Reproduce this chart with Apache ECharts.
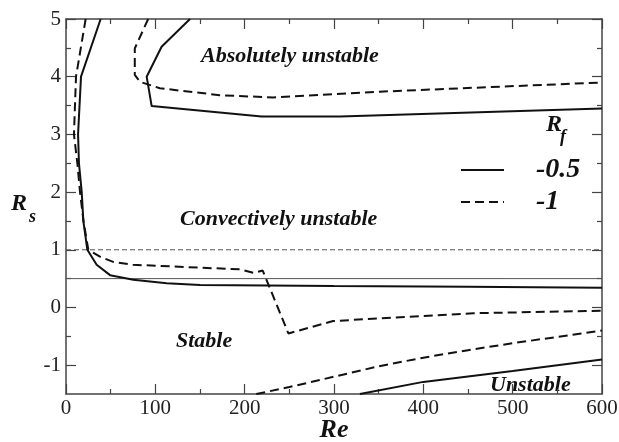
<!DOCTYPE html>
<html>
<head>
<meta charset="utf-8">
<script src="https://cdn.jsdelivr.net/npm/echarts@6/dist/echarts.min.js"></script>
<style>
  html, body { margin: 0; padding: 0; background: #fff; }
  #chart { width: 619px; height: 442px; }
</style>
</head>
<body>
<div id="chart"></div>
<script>
// Rf = -0.5 (solid): convective / stable boundary
const solidLowerRe = [38.8, 16.8, 13.5, 14.5, 17.6, 19.4, 23.9, 34.3, 49.3, 75.4, 112.7, 150, 300, 450, 600];
const solidLowerRs = [5, 4.0, 3.0, 2.5, 2.0, 1.5, 1.0, 0.74, 0.56, 0.48, 0.42, 0.39, 0.37, 0.36, 0.34];
// Rf = -0.5: absolute instability boundary
const solidUpperRe = [138.8, 107, 90.3, 95.9, 219, 306.7, 600];
const solidUpperRs = [5, 4.52, 4.0, 3.49, 3.31, 3.31, 3.45];
// Rf = -0.5: lower unstable boundary
const solidBottomRe = [329, 400, 500, 600];
const solidBottomRs = [-1.5, -1.29, -1.10, -0.90];

// Rf = -1 (dashed): convective / stable boundary
const dashLowerRe = [22, 11.2, 8.9, 12.7, 15.7, 19.4, 23.1, 25, 38, 52.8, 75, 150, 194.8, 209.7, 220.2, 248.9, 299, 456, 600];
const dashLowerRs = [5, 4.0, 3.0, 2.5, 2.0, 1.52, 1.17, 1.0, 0.88, 0.79, 0.74, 0.69, 0.66, 0.60, 0.64, -0.45, -0.235, -0.10, -0.056];
// Rf = -1: absolute instability boundary
const dashUpperRe = [92, 77, 77, 83, 105, 172, 232, 351, 600];
const dashUpperRs = [5, 4.49, 4.03, 3.91, 3.80, 3.68, 3.64, 3.74, 3.90];
// Rf = -1: lower unstable boundary
const dashBottomRe = [213, 250, 300, 350, 400, 450, 500, 550, 600];
const dashBottomRs = [-1.5, -1.38, -1.2, -1.02, -0.87, -0.74, -0.62, -0.51, -0.40];

// horizontal reference levels of Rs
const refDashedLevel = 1;
const refSolidLevel = 0.5;

// axis ticks
const reRange = [0, 600];
const rsRange = [-1.5, 5];
const rsMajorTicks = [-1, 0, 1, 2, 3, 4, 5];
const rsMinorTicks = [-0.5, 0.5, 1.5, 2.5, 3.5, 4.5];

const rfNames = ['-0.5', '-1'];

const zip = (xs, ys) => xs.map((x, i) => [x, ys[i]]);

const SERIF = '"Liberation Serif", "Times New Roman", serif';
const frameColor = '#444';
const ink = '#111';

function frameX(pos, showLabels) {
  return {
    type: 'value', position: pos, min: reRange[0], max: reRange[1], interval: 100,
    axisLine: { show: true, onZero: false, lineStyle: { color: frameColor, width: 1.5 } },
    axisTick: { show: true, inside: true, length: 10, lineStyle: { color: frameColor, width: 1.2 } },
    minorTick: { show: true, splitNumber: 2, length: 5, lineStyle: { color: frameColor, width: 1.2 } },
    splitLine: { show: false }, minorSplitLine: { show: false },
    axisLabel: { show: showLabels, fontFamily: SERIF, fontSize: 21, color: '#222', margin: 4 }
  };
}
function frameY(pos, major, showLine, showLabels) {
  const ticks = major ? rsMajorTicks : rsMinorTicks;
  return {
    type: 'value', position: pos, min: rsRange[0], max: rsRange[1],
    axisLine: { show: showLine, onZero: false, lineStyle: { color: frameColor, width: 1.5 } },
    axisTick: { show: true, inside: true, length: major ? 10 : 5, customValues: ticks,
                lineStyle: { color: frameColor, width: 1.2 } },
    splitLine: { show: false },
    axisLabel: { show: showLabels, customValues: ticks, fontFamily: SERIF, fontSize: 21, color: '#222', margin: 5 }
  };
}

const xBottom = frameX('bottom', true);
xBottom.name = 'Re';
xBottom.nameLocation = 'middle';
xBottom.nameGap = 23;
xBottom.nameMoveOverlap = false;
xBottom.nameTextStyle = { fontFamily: SERIF, fontSize: 26, fontWeight: 'bold', fontStyle: 'italic', color: ink };

function curve(name, xs, ys, dashed) {
  return {
    name, type: 'line', data: zip(xs, ys), symbol: 'none', showSymbol: false,
    animation: false, clip: true, silent: true,
    lineStyle: { color: ink, width: 2, type: dashed ? [9, 5] : 'solid' },
    itemStyle: { color: ink }
  };
}
function level(value, dashed) {
  return {
    name: 'level' + value, type: 'line', data: [[reRange[0], value], [reRange[1], value]],
    symbol: 'none', silent: true, animation: false,
    lineStyle: { color: '#555', width: 1, type: dashed ? [5, 3] : 'solid' }
  };
}

const italicBold = (size) => 'italic bold ' + size + 'px ' + SERIF;
function label(text, left, top, size) {
  return { type: 'text', left, top, silent: true,
           style: { text, font: italicBold(size), fill: ink } };
}

const chart = echarts.init(document.getElementById('chart'), null, { renderer: 'canvas' });
chart.setOption({
  animation: false,
  backgroundColor: '#fff',
  grid: { left: 66, right: 17, top: 19, bottom: 48, containLabel: false, outerBoundsMode: 'none' },
  xAxis: [xBottom, frameX('top', false)],
  yAxis: [
    frameY('left', true, true, true),
    frameY('left', false, false, false),
    frameY('right', true, true, false),
    frameY('right', false, false, false)
  ],
  legend: {
    data: rfNames, orient: 'vertical', left: 460, top: 156, padding: 0,
    itemWidth: 43, itemHeight: 14, itemGap: 4, selectedMode: false,
    itemStyle: { opacity: 0, borderWidth: 0 },
    textStyle: { fontFamily: SERIF, fontWeight: 'bold', fontStyle: 'italic', fontSize: 28,
                 color: ink, lineHeight: 27, padding: [0, 0, 0, 27] }
  },
  series: [
    level(refDashedLevel, true),
    level(refSolidLevel, false),
    curve(rfNames[0], solidLowerRe, solidLowerRs, false),
    curve(rfNames[0], solidUpperRe, solidUpperRs, false),
    curve(rfNames[0], solidBottomRe, solidBottomRs, false),
    curve(rfNames[1], dashLowerRe, dashLowerRs, true),
    curve(rfNames[1], dashUpperRe, dashUpperRs, true),
    curve(rfNames[1], dashBottomRe, dashBottomRs, true)
  ],
  graphic: [
    label('Absolutely unstable', 201, 45, 22),
    label('Convectively unstable', 180, 208, 22),
    label('Stable', 176, 330, 22),
    label('Unstable', 490, 374, 22),
    label('R', 11, 192, 24),
    label('s', 29, 208, 18),
    label('R', 546, 113, 24),
    label('f', 560, 128, 18)
  ]
});
</script>
</body>
</html>
